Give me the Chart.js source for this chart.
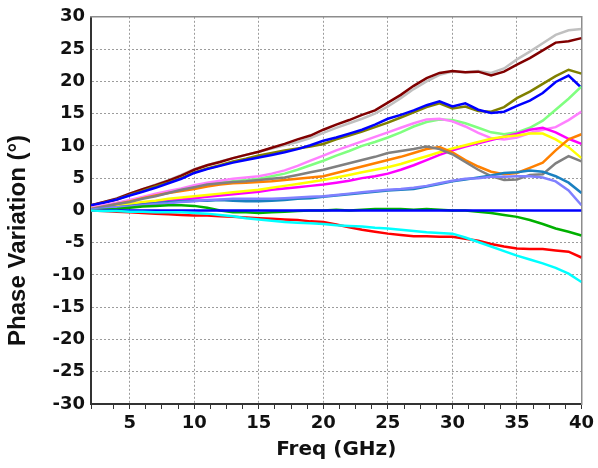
<!DOCTYPE html>
<html>
<head>
<meta charset="utf-8">
<title>Phase Variation</title>
<script src="https://cdn.jsdelivr.net/npm/chart.js@4"></script>
<style>
  html, body { margin: 0; padding: 0; background: #fff; }
  #chart { display: block; }
</style>
</head>
<body>
<canvas id="chart" width="598" height="468"></canvas>
<script>
// --- DATA ---
const freq = [2, 3, 4, 5, 6, 7, 8, 9, 10, 11, 12, 13, 14, 15, 16, 17, 18, 19, 20, 21,
              22, 23, 24, 25, 26, 27, 28, 29, 30, 31, 32, 33, 34, 35, 36, 37, 38, 39, 40];

const maroonVals = [0.8, 1.3, 1.8, 2.6, 3.3, 3.9, 4.6, 5.4, 6.3, 7.0, 7.5, 8.1, 8.6, 9.1, 9.7, 10.3, 11.0, 11.6, 12.5, 13.3,
                    14.0, 14.8, 15.5, 16.7, 17.9, 19.3, 20.5, 21.3, 21.6, 21.4, 21.5, 20.9, 21.5, 22.6, 23.6, 24.8, 26.0, 26.2, 26.7];
const silverVals = [0.8, 1.3, 1.9, 2.6, 3.3, 4.0, 4.7, 5.5, 6.4, 7.0, 7.6, 8.1, 8.6, 9.1, 9.6, 10.1, 10.6, 11.2, 12.0, 12.8,
                    13.5, 14.2, 15.0, 16.1, 17.4, 18.8, 20.0, 21.0, 21.5, 21.4, 21.6, 21.3, 22.0, 23.4, 24.6, 25.9, 27.2, 27.9, 28.1];
const oliveVals = [0.7, 1.2, 1.7, 2.4, 3.0, 3.7, 4.3, 5.0, 5.9, 6.5, 7.0, 7.6, 8.0, 8.5, 8.9, 9.3, 9.6, 9.9, 10.3, 11.0,
                   11.6, 12.2, 12.9, 13.6, 14.4, 15.2, 16.0, 16.6, 15.8, 16.1, 15.4, 15.3, 16.0, 17.4, 18.4, 19.6, 20.8, 21.8, 21.2];
const blueVals = [0.8, 1.2, 1.7, 2.3, 2.9, 3.5, 4.2, 4.9, 5.8, 6.4, 6.9, 7.4, 7.8, 8.2, 8.6, 9.0, 9.5, 10.1, 10.8, 11.3,
                  11.9, 12.5, 13.3, 14.2, 14.8, 15.5, 16.3, 16.9, 16.1, 16.6, 15.6, 15.1, 15.3, 16.2, 17.0, 18.2, 19.9, 20.9, 19.0];
const lightGreenVals = [0.3, 0.7, 1.1, 1.5, 2.0, 2.4, 2.9, 3.3, 3.7, 4.0, 4.3, 4.5, 4.7, 4.9, 5.3, 5.7, 6.3, 7.0, 7.7, 8.5,
                        9.2, 10.0, 10.6, 11.3, 12.1, 13.0, 13.7, 14.1, 14.0, 13.5, 12.8, 12.1, 11.8, 12.1, 12.8, 13.9, 15.6, 17.3, 19.2];
const violetVals = [0.4, 0.8, 1.2, 1.6, 2.1, 2.6, 3.0, 3.4, 3.9, 4.3, 4.6, 4.9, 5.1, 5.3, 5.7, 6.2, 6.9, 7.7, 8.5, 9.3,
                    10.0, 10.7, 11.4, 12.1, 12.8, 13.5, 14.1, 14.2, 13.8, 13.0, 12.0, 11.2, 11.0, 11.3, 12.0, 12.5, 12.9, 14.0, 15.3];
const magentaVals = [0.1, 0.4, 0.7, 0.9, 1.1, 1.3, 1.5, 1.7, 1.9, 2.1, 2.3, 2.5, 2.7, 2.9, 3.2, 3.4, 3.6, 3.8, 4.0, 4.3,
                     4.6, 5.0, 5.3, 5.7, 6.3, 7.0, 7.8, 8.6, 9.3, 9.9, 10.4, 10.9, 11.4, 11.9, 12.5, 12.8, 12.1, 11.1, 10.3];
const yellowVals = [0.2, 0.5, 0.8, 1.0, 1.3, 1.5, 1.8, 2.0, 2.2, 2.4, 2.6, 2.8, 3.0, 3.2, 3.5, 3.8, 4.1, 4.4, 4.7, 5.1,
                    5.5, 5.9, 6.3, 6.7, 7.2, 7.8, 8.4, 9.0, 9.6, 10.1, 10.6, 11.1, 11.4, 11.6, 11.9, 11.9, 11.0, 9.8, 8.1];
const orangeVals = [0.2, 0.6, 1.0, 1.4, 1.9, 2.3, 2.7, 3.0, 3.3, 3.7, 4.0, 4.2, 4.3, 4.4, 4.5, 4.7, 4.9, 5.1, 5.3, 5.8,
                    6.3, 6.8, 7.3, 7.8, 8.3, 8.9, 9.5, 9.8, 9.0, 7.8, 6.8, 6.0, 5.6, 5.8, 6.6, 7.4, 9.3, 11.0, 11.8];
const grayVals = [0.2, 0.6, 1.0, 1.3, 1.8, 2.2, 2.7, 3.2, 3.6, 4.0, 4.2, 4.4, 4.5, 4.7, 4.9, 5.1, 5.5, 5.9, 6.3, 6.8,
                  7.3, 7.8, 8.3, 8.9, 9.2, 9.5, 9.9, 9.5, 8.7, 7.5, 6.3, 5.3, 4.7, 4.8, 5.5, 5.6, 7.3, 8.4, 7.6];
const steelVals = [0.1, 0.3, 0.5, 0.7, 0.9, 1.1, 1.3, 1.4, 1.5, 1.5, 1.6, 1.5, 1.4, 1.4, 1.5, 1.6, 1.8, 1.9, 2.1, 2.3,
                   2.5, 2.7, 2.9, 3.1, 3.2, 3.3, 3.7, 4.1, 4.5, 4.8, 5.1, 5.4, 5.8, 5.9, 6.2, 6.0, 5.3, 4.3, 2.7];
const lavenderVals = [0.1, 0.3, 0.5, 0.6, 0.8, 1.0, 1.1, 1.3, 1.4, 1.6, 1.7, 1.8, 1.8, 1.8, 1.8, 1.9, 2.0, 2.1, 2.2, 2.4,
                      2.6, 2.8, 3.0, 3.2, 3.3, 3.5, 3.8, 4.2, 4.6, 4.9, 5.0, 5.2, 5.2, 5.3, 5.3, 5.1, 4.5, 3.1, 0.8];
const greenVals = [0.0, 0.1, 0.2, 0.4, 0.6, 0.7, 0.8, 0.8, 0.7, 0.4, 0.0, -0.3, -0.3, -0.4, -0.3, -0.2, -0.1, 0.0, 0.0, 0.1,
                   0.0, 0.1, 0.2, 0.2, 0.2, 0.1, 0.2, 0.1, 0.0, 0.0, -0.2, -0.4, -0.7, -1.0, -1.5, -2.1, -2.8, -3.3, -3.9];
const refVals = [0, 0, 0, 0, 0, 0, 0, 0, 0, 0, 0, 0, 0, 0, 0, 0, 0, 0, 0, 0,
                 0, 0, 0, 0, 0, 0, 0, 0, 0, 0, 0, 0, 0, 0, 0, 0, 0, 0, 0];
const redVals = [0.0, -0.1, -0.2, -0.3, -0.4, -0.5, -0.6, -0.7, -0.8, -0.8, -0.9, -1.0, -1.1, -1.2, -1.3, -1.4, -1.5, -1.7, -1.8, -2.2,
                 -2.6, -3.0, -3.3, -3.6, -3.8, -4.0, -4.0, -4.1, -4.1, -4.4, -4.7, -5.2, -5.6, -5.9, -6.0, -6.0, -6.2, -6.4, -7.3];
const cyanVals = [0.0, -0.1, -0.1, -0.2, -0.2, -0.3, -0.3, -0.3, -0.4, -0.5, -0.7, -0.9, -1.2, -1.4, -1.6, -1.8, -1.9, -2.0, -2.1, -2.3,
                  -2.4, -2.5, -2.7, -2.8, -3.0, -3.2, -3.4, -3.5, -3.6, -4.2, -4.9, -5.6, -6.3, -7.0, -7.6, -8.2, -8.9, -9.8, -11.1];

const yTicks = [-30, -25, -20, -15, -10, -5, 0, 5, 10, 15, 20, 25, 30];
const xMajorTicks = [5, 10, 15, 20, 25, 30, 35, 40];

// --- STYLE ---
const FONT = "'DejaVu Sans', sans-serif";
const TITLE_FONT_Y = "'Liberation Sans', Arial, sans-serif";
const GRID_COLOR = '#9c9c9c';
const AXIS_COLOR = '#333333';
const FRAME_COLOR = '#8c8c8c';

const seriesList = [
    { values: silverVals, color: '#c0c0c0' },
    { values: maroonVals, color: '#800000' },
    { values: oliveVals, color: '#808000' },
    { values: blueVals, color: '#0000ff' },
    { values: lightGreenVals, color: '#80ff80' },
    { values: violetVals, color: '#ff80ff' },
    { values: magentaVals, color: '#ff00ff' },
    { values: yellowVals, color: '#ffff00' },
    { values: orangeVals, color: '#ff8000' },
    { values: grayVals, color: '#808080' },
    { values: steelVals, color: '#1a80c0' },
    { values: lavenderVals, color: '#8080ff' },
    { values: greenVals, color: '#00b000' },
    { values: refVals, color: '#0000ff' },
    { values: redVals, color: '#ff0000' },
    { values: cyanVals, color: '#00ffff' }
];

// Build Chart.js datasets from the arrays above
const datasets = seriesList.map((s, i) => ({
    data: freq.map((f, j) => ({ x: f, y: s.values[j] })),
    borderColor: s.color,
    borderWidth: 2.5,
    pointRadius: 0,
    tension: 0,
    fill: false,
    order: seriesList.length - i
}));

const isMajorX = (v) => xMajorTicks.includes(v);

const ctx = document.getElementById('chart').getContext('2d');
new Chart(ctx, {
    type: 'line',
    data: { datasets },
    options: {
        responsive: false,
        animation: false,
        devicePixelRatio: 1,
        layout: { padding: { left: 0, right: 15, top: 16, bottom: 0 } },
        plugins: {
            legend: { display: false },
            tooltip: { enabled: false }
        },
        scales: {
            x: {
                type: 'linear',
                position: 'bottom',
                min: 2,
                max: 40,
                afterFit: (scale) => { scale.height = 64; },
                ticks: {
                    stepSize: 1.25,
                    autoSkip: false,
                    maxRotation: 0,
                    padding: 4,
                    color: '#111',
                    font: { family: FONT, size: 18, weight: 'bold' },
                    callback: (v) => isMajorX(v) ? String(v) : ''
                },
                grid: {
                    color: (c) => (c.tick && isMajorX(c.tick.value) && c.tick.value < 40) ? GRID_COLOR : 'rgba(0,0,0,0)',
                    lineWidth: 1,
                    drawTicks: true,
                    tickLength: 5,
                    tickColor: AXIS_COLOR,
                    tickWidth: 1
                },
                border: { color: AXIS_COLOR, width: 2, dash: [2, 2] },
                title: {
                    display: true,
                    text: 'Freq (GHz)',
                    color: '#111',
                    padding: { top: 0, bottom: 6 },
                    font: { family: FONT, size: 20, weight: 'bold' }
                }
            },
            y: {
                type: 'linear',
                position: 'left',
                min: -30,
                max: 30,
                afterFit: (scale) => { scale.width = 91; },
                afterBuildTicks: (scale) => { scale.ticks = yTicks.map(v => ({ value: v })); },
                ticks: {
                    padding: 6,
                    color: '#111',
                    font: { family: FONT, size: 18, weight: 'bold' }
                },
                grid: {
                    color: (c) => (c.tick && Math.abs(c.tick.value) !== 30) ? GRID_COLOR : 'rgba(0,0,0,0)',
                    lineWidth: 1,
                    drawTicks: false
                },
                border: { color: AXIS_COLOR, width: 2, dash: [2, 2] },
                title: {
                    display: true,
                    // trailing spaces nudge the rotated title down like the original
                    text: 'Phase Variation (°)         ',
                    color: '#111',
                    padding: { top: 4, bottom: 0 },
                    font: { family: TITLE_FONT_Y, size: 24, weight: 'bold' }
                }
            },
            // top and right edges of the plot frame
            xTop: {
                type: 'linear',
                position: 'top',
                min: 2,
                max: 40,
                afterFit: (scale) => { scale.height = 0; },
                ticks: { display: false },
                grid: { display: false, drawTicks: false },
                border: { color: FRAME_COLOR, width: 1.5 }
            },
            yRight: {
                type: 'linear',
                position: 'right',
                min: -30,
                max: 30,
                afterFit: (scale) => { scale.width = 0; },
                ticks: { display: false },
                grid: { display: false, drawTicks: false },
                border: { color: FRAME_COLOR, width: 1.5 }
            }
        }
    }
});
</script>
</body>
</html>
